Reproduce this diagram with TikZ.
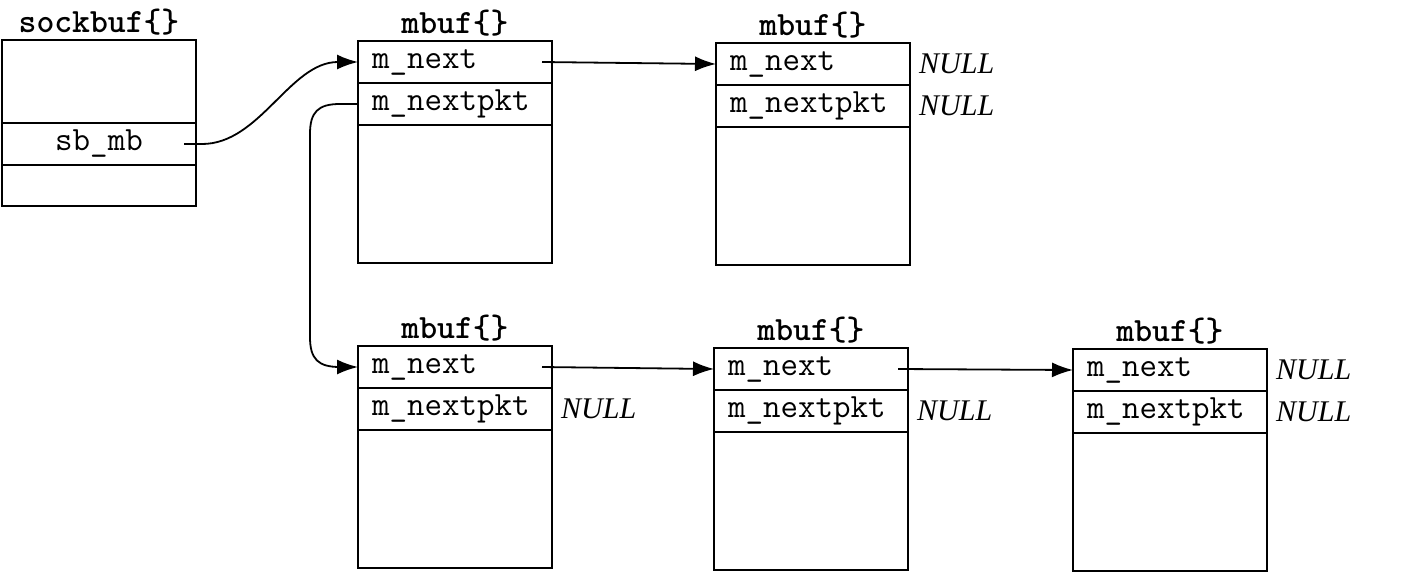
\documentclass[tikz,border=0pt]{standalone}
\usepackage{fontspec}
\newfontfamily\nulltxtfont{Liberation Serif}
\usetikzlibrary{arrows.meta}
\begin{document}
\begin{tikzpicture}[x=1pt,y=-1pt,
  box/.style={draw, line width=1.8pt, outer sep=0pt, anchor=north west, inner ysep=0pt, inner xsep=14pt,
    text width=166pt, align=left, minimum height=42pt,
    font=\fontsize{34}{36}\selectfont\ttfamily},
  body/.style={draw, line width=1.8pt, outer sep=0pt, anchor=north west, minimum width=194pt,
    minimum height=138pt, inner sep=0pt},
  ttl/.style={anchor=south, inner sep=0pt, font=\fontsize{34}{36}\selectfont\ttfamily\bfseries},
  nul/.style={anchor=west, inner sep=0pt, font=\fontsize{30}{32}\selectfont\nulltxtfont\itshape},
  ptr/.style={line width=1.8pt, -{Latex[length=21pt,width=15pt]}}]
\useasboundingbox (0,0) rectangle (1426,587);

% sockbuf
\node[body, minimum height=83pt] (sbtop) at (2,40) {};
\node[box, align=center] (sbmb) at (sbtop.south west) {sb\_mb};
\node[body, minimum height=41pt] (sbbot) at (sbmb.south west) {};
\node[ttl] (tsb) at ([yshift=5pt]sbtop.north) {sockbuf\{\}};

% mbuf 1
\node[box] (a1n) at (358,41) {m\_next};
\node[box] (a1p) at (a1n.south west) {m\_nextpkt};
\node[body] (a1b) at (a1p.south west) {};
\node[ttl] (t1) at ([yshift=5pt]a1n.north) {mbuf\{\}};

% mbuf 2
\node[box] (a2n) at (716,43) {m\_next};
\node[box] (a2p) at (a2n.south west) {m\_nextpkt};
\node[body] (a2b) at (a2p.south west) {};
\node[ttl] (t2) at ([yshift=5pt]a2n.north) {mbuf\{\}};
\node[nul] (z2n) at ([xshift=9pt]a2n.east) {NULL};
\node[nul] (z2p) at ([xshift=9pt]a2p.east) {NULL};

% mbuf 3
\node[box] (a3n) at (358,346) {m\_next};
\node[box] (a3p) at (a3n.south west) {m\_nextpkt};
\node[body] (a3b) at (a3p.south west) {};
\node[ttl] (t3) at ([yshift=5pt]a3n.north) {mbuf\{\}};
\node[nul] (z3p) at ([xshift=9pt]a3p.east) {NULL};

% mbuf 4
\node[box] (a4n) at (714,348) {m\_next};
\node[box] (a4p) at (a4n.south west) {m\_nextpkt};
\node[body] (a4b) at (a4p.south west) {};
\node[ttl] (t4) at ([yshift=5pt]a4n.north) {mbuf\{\}};
\node[nul] (z4p) at ([xshift=9pt]a4p.east) {NULL};

% mbuf 5
\node[box] (a5n) at (1073,349) {m\_next};
\node[box] (a5p) at (a5n.south west) {m\_nextpkt};
\node[body] (a5b) at (a5p.south west) {};
\node[ttl] (t5) at ([yshift=5pt]a5n.north) {mbuf\{\}};
\node[nul] (z5n) at ([xshift=9pt]a5n.east) {NULL};
\node[nul] (z5p) at ([xshift=9pt]a5p.east) {NULL};

% connectors
\coordinate (s0) at ([xshift=-12pt]sbmb.east);
\draw[ptr] (s0) -- ++(18pt,0) .. controls +(58pt,0) and ([xshift=-68pt]a1n.west) .. (a1n.west);
\coordinate (n1) at ([xshift=-10pt]a1n.east);
\draw[ptr] (n1) -- (a2n.west);
\draw[ptr] (a1p.west) -- ([xshift=-18pt]a1p.west)
  .. controls ([xshift=-40pt]a1p.west) and ([xshift=-48pt,yshift=-8pt]a1p.west) .. ([xshift=-48pt,yshift=-30pt]a1p.west)
  -- ([xshift=-48pt,yshift=30pt]a3n.west)
  .. controls ([xshift=-48pt,yshift=8pt]a3n.west) and ([xshift=-40pt]a3n.west) .. ([xshift=-18pt]a3n.west)
  -- (a3n.west);
\coordinate (n3) at ([xshift=-10pt]a3n.east);
\draw[ptr] (n3) -- (a4n.west);
\coordinate (n4) at ([xshift=-10pt]a4n.east);
\draw[ptr] (n4) -- (a5n.west);
\end{tikzpicture}
\end{document}
